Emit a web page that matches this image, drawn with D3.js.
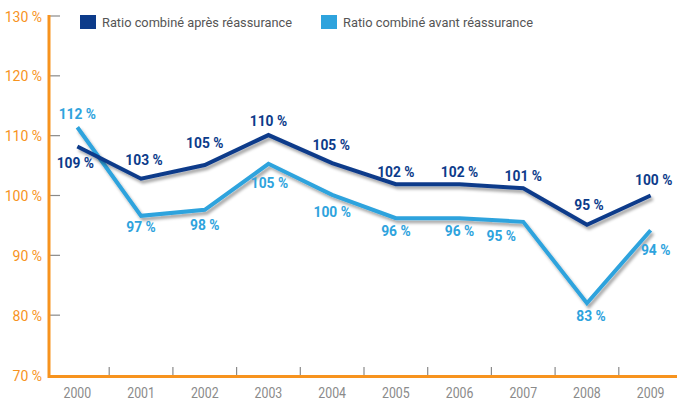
<!DOCTYPE html>
<html>
<head>
<meta charset="utf-8">
<script src="https://cdn.jsdelivr.net/npm/d3@7/dist/d3.min.js"></script>
<style>
  body { margin: 0; background: #fff; }
  text { font-family: Roboto, "Liberation Sans", sans-serif; }
</style>
</head>
<body>
<div id="chart"></div>
<script>
// data
var years = ["2000", "2001", "2002", "2003", "2004", "2005", "2006", "2007", "2008", "2009"];
var apres = [108.2, 102.8, 105.1, 110.1, 105.4, 101.9, 101.9, 101.2, 95.1, 100.0];
var avant = [111.4, 96.6, 97.6, 105.3, 100.1, 96.2, 96.2, 95.6, 82.0, 94.2];
var apresLabels = ["109 %", "103 %", "105 %", "110 %", "105 %", "102 %", "102 %", "101 %", "95 %", "100 %"];
var avantLabels = ["112 %", "97 %", "98 %", "105 %", "100 %", "96 %", "96 %", "95 %", "83 %", "94 %"];
var yTicks = [70, 80, 90, 100, 110, 120, 130];
var seriesNames = ["Ratio combiné après réassurance", "Ratio combiné avant réassurance"];

// label placement (offset of label centre from its point)
var apresOff = [[-2, 16], [3, -19], [0, -22], [0, -15], [-1, -19], [0, -13], [0, -13], [0, -13], [2, -20], [3, -16]];
var avantOff = [[0, -14], [0, 11], [0, 15], [1, 19], [0, 17], [0, 12], [0, 12], [-22, 14], [4, 12], [5, 19]];

var W = 677, H = 400;
var dark = "#0c3b8a", light = "#2ea3dd", orange = "#f7931e";

var svg = d3.select("#chart").append("svg")
    .attr("width", W)
    .attr("height", H);

var defs = svg.append("defs");
var f = defs.append("filter").attr("id", "shadow")
    .attr("x", "-10%").attr("y", "-30%").attr("width", "120%").attr("height", "160%");
f.append("feDropShadow")
    .attr("dx", 2).attr("dy", 3)
    .attr("stdDeviation", 1.8)
    .attr("flood-color", "#000")
    .attr("flood-opacity", 0.35);

var x = d3.scaleBand().domain(years).range([45.5, 682.5]);
var y = d3.scaleLinear().domain([70, 130]).range([375, 16]);
var cx = function(d) { return x(d) + x.bandwidth() / 2; };

// y tick marks (gray, inside)
svg.append("g").selectAll("line")
    .data(yTicks.slice(1))
    .enter().append("line")
    .attr("x1", 49).attr("x2", 60)
    .attr("y1", function(d) { return y(d); })
    .attr("y2", function(d) { return y(d); })
    .attr("stroke", "#8a8a8a")
    .attr("stroke-width", 1.2);

// y tick labels
svg.append("g").selectAll("text")
    .data(yTicks)
    .enter().append("text")
    .attr("x", 42)
    .attr("y", function(d) { return y(d) + 5.5; })
    .attr("text-anchor", "end")
    .attr("fill", orange)
    .attr("font-size", 14)
    .text(function(d) { return d + " %"; });

// x tick marks between years
svg.append("g").selectAll("line")
    .data(years.slice(0, -1))
    .enter().append("line")
    .attr("x1", function(d) { return x(d) + x.bandwidth(); })
    .attr("x2", function(d) { return x(d) + x.bandwidth(); })
    .attr("y1", 367).attr("y2", 376)
    .attr("stroke", "#8a8a8a")
    .attr("stroke-width", 1.2);

// x labels
svg.append("g").selectAll("text")
    .data(years)
    .enter().append("text")
    .attr("transform", function(d) { return "translate(" + cx(d) + ",398) scale(0.88,1)"; })
    .attr("text-anchor", "middle")
    .attr("fill", "#8a8a8a")
    .attr("font-size", 14)
    .text(function(d) { return d; });

// axes lines
svg.append("line")
    .attr("x1", 49).attr("x2", 49)
    .attr("y1", 15).attr("y2", 378)
    .attr("stroke", orange).attr("stroke-width", 3);
svg.append("line")
    .attr("x1", 48).attr("x2", W)
    .attr("y1", 376.5).attr("y2", 376.5)
    .attr("stroke", orange).attr("stroke-width", 3);

// lines
var line = d3.line()
    .x(function(d, i) { return cx(years[i]); })
    .y(function(d) { return y(d); });

svg.append("path")
    .datum(avant)
    .attr("d", line)
    .attr("fill", "none")
    .attr("stroke", light)
    .attr("stroke-width", 4)
    .attr("stroke-linejoin", "miter")
    .attr("filter", "url(#shadow)");

svg.append("path")
    .datum(apres)
    .attr("d", line)
    .attr("fill", "none")
    .attr("stroke", dark)
    .attr("stroke-width", 4)
    .attr("stroke-linejoin", "miter")
    .attr("filter", "url(#shadow)");

// value labels
function addLabels(vals, labels, off, color) {
    svg.append("g").selectAll("text")
        .data(vals)
        .enter().append("text")
        .attr("transform", function(d, i) {
            return "translate(" + (cx(years[i]) + off[i][0]) + "," + (y(d) + off[i][1] + 5.5) + ") scale(0.92,1)";
        })
        .attr("text-anchor", "middle")
        .attr("fill", color)
        .attr("font-size", 15)
        .attr("font-weight", "bold")
        .text(function(d, i) { return labels[i]; });
}
addLabels(apres, apresLabels, apresOff, dark);
addLabels(avant, avantLabels, avantOff, light);

// legend
var legX = [80, 321];
var legLen = [190, 190];
var leg = svg.append("g").selectAll("g")
    .data(seriesNames)
    .enter().append("g");
leg.append("rect")
    .attr("x", function(d, i) { return legX[i]; })
    .attr("y", 15)
    .attr("width", 16).attr("height", 14)
    .attr("fill", function(d, i) { return i == 0 ? dark : light; });
leg.append("text")
    .attr("x", function(d, i) { return legX[i] + 22; })
    .attr("y", 27)
    .attr("fill", "#555")
    .attr("font-size", 13.5)
    .attr("textLength", function(d, i) { return legLen[i]; })
    .attr("lengthAdjust", "spacingAndGlyphs")
    .text(function(d) { return d; });
</script>
</body>
</html>
